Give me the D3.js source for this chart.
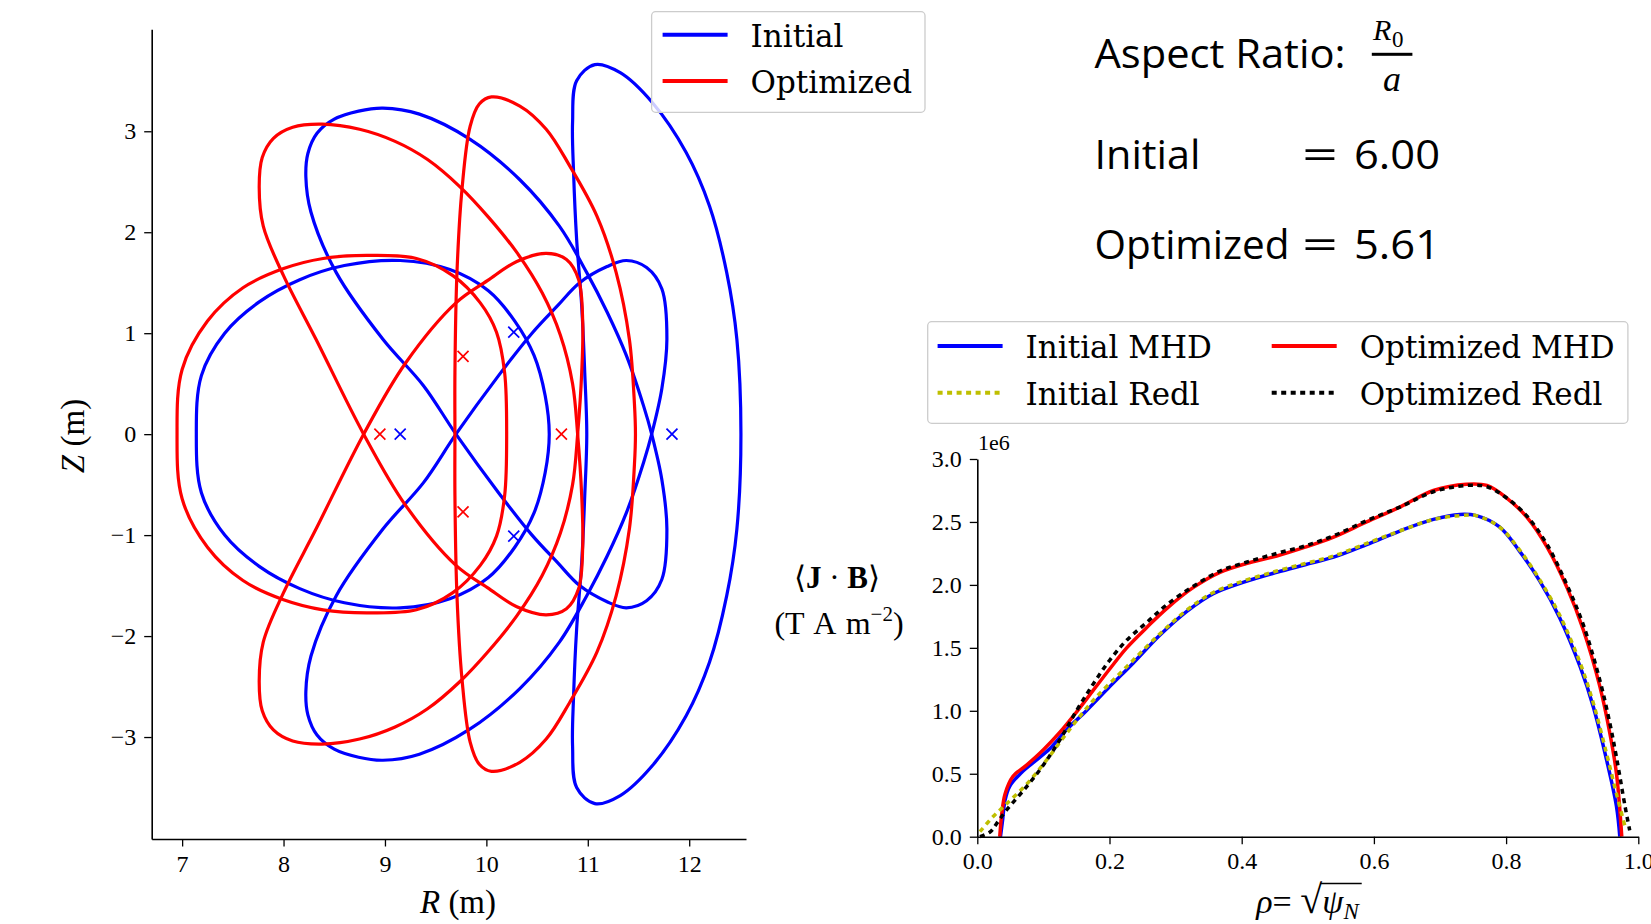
<!DOCTYPE html>
<html>
<head>
<meta charset="utf-8">
<script src="https://cdn.jsdelivr.net/npm/d3@7"></script>
<style>
	body { margin: 0; background: #fff; }
	svg { display: block; }
</style>
</head>
<body>
<svg width="1651" height="924"></svg>
<script>
'use strict';

const rTicks = [7, 8, 9, 10, 11, 12];
const zTicks = [-3, -2, -1, 0, 1, 2, 3];
const rhoTicks = [0, 0.2, 0.4, 0.6, 0.8, 1.0];
const jbTicks = [0, 0.5, 1.0, 1.5, 2.0, 2.5, 3.0];

// boundary cross-sections, [R, Z] in m
const initialBean = [[7.14, 0], [7.19, 0.58], [7.42, 1.00], [7.76, 1.31], [8.16, 1.53], [8.60, 1.67], [9.15, 1.72], [9.64, 1.63], [10.02, 1.42], [10.28, 1.12], [10.47, 0.78], [10.58, 0.38], [10.62, 0], [10.58, -0.38], [10.47, -0.78], [10.28, -1.12], [10.02, -1.42], [9.64, -1.63], [9.15, -1.72], [8.60, -1.67], [8.16, -1.53], [7.76, -1.31], [7.42, -1.00], [7.19, -0.58]];
const initialTall = [[10.99, 0], [10.97, 0.61], [10.94, 1.27], [10.89, 1.93], [10.86, 2.59], [10.85, 3.09], [10.89, 3.50], [11.07, 3.66], [11.32, 3.58], [11.64, 3.28], [11.97, 2.79], [12.20, 2.26], [12.37, 1.60], [12.47, 0.94], [12.51, 0], [12.47, -0.94], [12.37, -1.60], [12.20, -2.26], [11.97, -2.79], [11.64, -3.28], [11.32, -3.58], [11.07, -3.66], [10.89, -3.50], [10.85, -3.09], [10.86, -2.59], [10.89, -1.93], [10.94, -1.27], [10.97, -0.61]];
const initialTiltDown = [[8.98, 3.23], [8.74, 3.20], [8.50, 3.12], [8.33, 2.98], [8.24, 2.78], [8.22, 2.55], [8.27, 2.20], [8.52, 1.60], [8.98, 0.94], [9.38, 0.48], [9.70, 0], [10.12, -0.58], [10.45, -1.00], [10.70, -1.27], [10.92, -1.50], [11.19, -1.66], [11.38, -1.72], [11.58, -1.65], [11.73, -1.44], [11.78, -0.94], [11.73, -0.45], [11.63, 0], [11.55, 0.28], [11.38, 0.78], [11.19, 1.21], [10.99, 1.60], [10.72, 2.06], [10.33, 2.52], [9.84, 2.92], [9.34, 3.17]];
const initialTiltUp = [[8.98, -3.23], [8.74, -3.20], [8.50, -3.12], [8.33, -2.98], [8.24, -2.78], [8.22, -2.55], [8.27, -2.20], [8.52, -1.60], [8.98, -0.94], [9.38, -0.48], [9.70, 0], [10.12, 0.58], [10.45, 1.00], [10.70, 1.27], [10.92, 1.50], [11.19, 1.66], [11.38, 1.72], [11.58, 1.65], [11.73, 1.44], [11.78, 0.94], [11.73, 0.45], [11.63, 0], [11.55, -0.28], [11.38, -0.78], [11.19, -1.21], [10.99, -1.60], [10.72, -2.06], [10.33, -2.52], [9.84, -2.92], [9.34, -3.17]];

const optimizedBean = [[6.95, 0], [7.00, 0.64], [7.25, 1.12], [7.60, 1.45], [8.00, 1.64], [8.39, 1.74], [8.82, 1.77], [9.31, 1.74], [9.67, 1.57], [9.94, 1.30], [10.10, 1.01], [10.18, 0.61], [10.20, 0], [10.18, -0.61], [10.10, -1.01], [9.94, -1.30], [9.67, -1.57], [9.31, -1.74], [8.82, -1.77], [8.39, -1.74], [8.00, -1.64], [7.60, -1.45], [7.25, -1.12], [7.00, -0.64]];
const optimizedTall = [[9.69, 0], [9.69, 0.61], [9.71, 1.60], [9.76, 2.43], [9.84, 3.05], [9.93, 3.27], [10.05, 3.34], [10.33, 3.25], [10.59, 3.02], [10.82, 2.66], [11.09, 2.16], [11.28, 1.60], [11.41, 0.94], [11.46, 0.30], [11.47, 0], [11.46, -0.30], [11.41, -0.94], [11.28, -1.60], [11.09, -2.16], [10.82, -2.66], [10.59, -3.02], [10.33, -3.25], [10.05, -3.34], [9.93, -3.27], [9.84, -3.05], [9.76, -2.43], [9.71, -1.60], [9.69, -0.61]];
const optimizedTiltDown = [[8.38, 3.07], [8.09, 3.04], [7.90, 2.93], [7.79, 2.74], [7.76, 2.45], [7.80, 2.06], [8.00, 1.57], [8.32, 0.94], [8.79, 0], [9.20, -0.70], [9.70, -1.30], [10.01, -1.52], [10.30, -1.71], [10.59, -1.79], [10.79, -1.73], [10.91, -1.53], [10.95, -1.11], [10.94, -0.61], [10.90, 0], [10.85, 0.50], [10.73, 0.98], [10.55, 1.40], [10.30, 1.80], [10.02, 2.15], [9.74, 2.45], [9.42, 2.72], [9.10, 2.90], [8.75, 3.02]];
const optimizedTiltUp = [[8.38, -3.07], [8.09, -3.04], [7.90, -2.93], [7.79, -2.74], [7.76, -2.45], [7.80, -2.06], [8.00, -1.57], [8.32, -0.94], [8.79, 0], [9.20, 0.70], [9.70, 1.30], [10.01, 1.52], [10.30, 1.71], [10.59, 1.79], [10.79, 1.73], [10.91, 1.53], [10.95, 1.11], [10.94, 0.61], [10.90, 0], [10.85, -0.50], [10.73, -0.98], [10.55, -1.40], [10.30, -1.80], [10.02, -2.15], [9.74, -2.45], [9.42, -2.72], [9.10, -2.90], [8.75, -3.02]];

// magnetic axis positions
const initialAxis = [[9.15, 0], [11.83, 0], [10.27, 1.01], [10.27, -1.01]];
const optimizedAxis = [[8.95, 0], [10.74, 0], [9.77, 0.77], [9.77, -0.77]];

// <J.B> profiles, units of 1e6 T A m^-2
const rhoInitialMHD = [0.035, 0.038, 0.042, 0.049, 0.065, 0.085, 0.11, 0.135, 0.165, 0.20, 0.236, 0.276, 0.317, 0.357, 0.402, 0.453, 0.496, 0.539, 0.589, 0.640, 0.690, 0.73, 0.755, 0.79, 0.82, 0.851, 0.881, 0.912, 0.932, 0.952, 0.967, 0.972];
const jbInitialMHD = [0, 0.12, 0.29, 0.40, 0.50, 0.59, 0.70, 0.85, 1.00, 1.19, 1.38, 1.60, 1.79, 1.93, 2.02, 2.10, 2.16, 2.22, 2.32, 2.43, 2.52, 2.56, 2.55, 2.46, 2.27, 2.03, 1.74, 1.35, 1.03, 0.61, 0.24, 0];
const rhoOptimizedMHD = [0.034, 0.037, 0.042, 0.054, 0.075, 0.10, 0.125, 0.15, 0.175, 0.20, 0.226, 0.256, 0.286, 0.327, 0.367, 0.407, 0.453, 0.496, 0.539, 0.589, 0.640, 0.690, 0.740, 0.771, 0.801, 0.831, 0.862, 0.892, 0.917, 0.942, 0.957, 0.967, 0.975];
const jbOptimizedMHD = [0, 0.18, 0.34, 0.48, 0.57, 0.69, 0.83, 0.99, 1.16, 1.33, 1.50, 1.66, 1.81, 1.98, 2.10, 2.17, 2.23, 2.30, 2.38, 2.50, 2.62, 2.75, 2.80, 2.79, 2.69, 2.54, 2.30, 1.98, 1.64, 1.19, 0.82, 0.50, 0];
const rhoInitialRedl = [0.004, 0.024, 0.044, 0.075, 0.105, 0.135, 0.175, 0.226, 0.276, 0.317, 0.357, 0.402, 0.453, 0.496, 0.539, 0.589, 0.640, 0.690, 0.73, 0.755, 0.79, 0.82, 0.851, 0.881, 0.912, 0.932, 0.952, 0.967, 0.98];
const jbInitialRedl = [0.04, 0.16, 0.26, 0.42, 0.61, 0.82, 1.08, 1.35, 1.61, 1.80, 1.94, 2.03, 2.11, 2.17, 2.23, 2.33, 2.43, 2.52, 2.55, 2.55, 2.46, 2.28, 2.04, 1.76, 1.38, 1.06, 0.66, 0.34, 0.08];
const rhoOptimizedRedl = [0.004, 0.02, 0.03, 0.044, 0.075, 0.10, 0.125, 0.15, 0.175, 0.20, 0.226, 0.256, 0.286, 0.327, 0.367, 0.407, 0.453, 0.496, 0.539, 0.589, 0.640, 0.690, 0.740, 0.771, 0.801, 0.831, 0.862, 0.892, 0.917, 0.942, 0.957, 0.967, 0.98, 0.987];
const jbOptimizedRedl = [0, 0.04, 0.11, 0.21, 0.40, 0.57, 0.77, 1.00, 1.21, 1.40, 1.56, 1.70, 1.84, 1.99, 2.11, 2.18, 2.25, 2.31, 2.39, 2.51, 2.62, 2.74, 2.79, 2.78, 2.69, 2.55, 2.32, 2.00, 1.68, 1.24, 0.90, 0.63, 0.24, 0.05];

const BLUE = "#0000ff";
const RED = "#ff0000";
const YELLOW = "#bfbf00";
const SERIF = '"Liberation Serif", "DejaVu Serif", serif';
const LEGEND_FONT = '"DejaVu Serif", serif';
const SANS = '"Open Sans", "Noto Sans", sans-serif';

const svg = d3.select("svg");

function styleAxis(g) {
	g.attr("font-family", SERIF).attr("font-size", 24);
	g.select(".domain").attr("stroke-width", 1.6);
	g.selectAll(".tick line").attr("stroke-width", 1.3);
	g.selectAll(".tick text").attr("fill", "#000");
}

function legendBox(x, y, w, h) {
	svg.append("rect")
		.attr("x", x).attr("y", y)
		.attr("width", w).attr("height", h)
		.attr("rx", 4)
		.attr("fill", "#fff").attr("fill-opacity", 0.8)
		.attr("stroke", "#cccccc").attr("stroke-width", 1.3);
}

function legendItem(x, y, label, color, dash) {
	svg.append("line")
		.attr("x1", x).attr("x2", x + 65)
		.attr("y1", y).attr("y2", y)
		.attr("stroke", color).attr("stroke-width", 4)
		.attr("stroke-dasharray", dash);
	svg.append("text")
		.attr("x", x + 88).attr("y", y + 12)
		.attr("font-family", LEGEND_FONT).attr("font-size", 31)
		.text(label);
}

// ---- left panel: boundary shapes ----
const xR = d3.scaleLinear().domain([6.7, 12.56]).range([151.7, 746]);
const yZ = d3.scaleLinear().domain([-4.01, 4.01]).range([839, 29.3]);

const contour = d3.line()
	.x(d => xR(d[0]))
	.y(d => yZ(d[1]))
	.curve(d3.curveCatmullRomClosed.alpha(0.5));

const sections = [
	{pts: initialBean, color: BLUE},
	{pts: initialTall, color: BLUE},
	{pts: initialTiltDown, color: BLUE},
	{pts: initialTiltUp, color: BLUE},
	{pts: optimizedBean, color: RED},
	{pts: optimizedTall, color: RED},
	{pts: optimizedTiltDown, color: RED},
	{pts: optimizedTiltUp, color: RED}
];

const left = svg.append("g");

left.append("g").selectAll("path")
	.data(sections)
	.enter().append("path")
	.attr("d", d => contour(d.pts))
	.attr("fill", "none")
	.attr("stroke", d => d.color)
	.attr("stroke-width", 3.2);

const marks = initialAxis.map(p => ({p: p, color: BLUE}))
	.concat(optimizedAxis.map(p => ({p: p, color: RED})));

left.append("g").selectAll("path")
	.data(marks)
	.enter().append("path")
	.attr("transform", d => `translate(${xR(d.p[0])},${yZ(d.p[1])})`)
	.attr("d", "M-5.5,-5.5L5.5,5.5M-5.5,5.5L5.5,-5.5")
	.attr("stroke", d => d.color)
	.attr("stroke-width", 1.7);

left.append("g")
	.attr("transform", "translate(0,839)")
	.call(d3.axisBottom(xR).tickValues(rTicks).tickSize(7.5).tickSizeOuter(0).tickPadding(8).tickFormat(d3.format("d")))
	.call(styleAxis);

left.append("g")
	.attr("transform", "translate(151.7,0)")
	.call(d3.axisLeft(yZ).tickValues(zTicks).tickSize(7.5).tickSizeOuter(0).tickPadding(8).tickFormat(d3.format("d")))
	.call(styleAxis);

const rLabel = left.append("text")
	.attr("x", 458).attr("y", 913)
	.attr("text-anchor", "middle")
	.attr("font-family", SERIF).attr("font-size", 33);
rLabel.append("tspan").attr("font-style", "italic").text("R");
rLabel.append("tspan").text(" (m)");

const zLabel = left.append("text")
	.attr("transform", "translate(84,436) rotate(-90)")
	.attr("text-anchor", "middle")
	.attr("font-family", SERIF).attr("font-size", 33);
zLabel.append("tspan").attr("font-style", "italic").text("Z");
zLabel.append("tspan").text(" (m)");

legendBox(651.6, 11.7, 273.4, 100.6);
legendItem(662.6, 34.7, "Initial", BLUE, null);
legendItem(662.6, 81, "Optimized", RED, null);

// ---- aspect ratio text ----
function sansText(x, y, str, len) {
	return svg.append("text")
		.attr("x", x).attr("y", y)
		.attr("font-family", SANS).attr("font-size", 41)
		.attr("textLength", len).attr("lengthAdjust", "spacingAndGlyphs")
		.text(str);
}

sansText(1094.5, 68, "Aspect Ratio:", 251);
svg.append("text")
	.attr("x", 1373).attr("y", 40)
	.attr("font-family", SERIF).attr("font-size", 30).attr("font-style", "italic")
	.text("R");
svg.append("text")
	.attr("x", 1392).attr("y", 47)
	.attr("font-family", SERIF).attr("font-size", 23)
	.text("0");
svg.append("rect")
	.attr("x", 1371.8).attr("y", 52.8)
	.attr("width", 40.6).attr("height", 3);
svg.append("text")
	.attr("x", 1392).attr("y", 91)
	.attr("text-anchor", "middle")
	.attr("font-family", SERIF).attr("font-size", 36).attr("font-style", "italic")
	.text("a");

sansText(1094.5, 169, "Initial", 106);
sansText(1302, 169, "=", 36);
sansText(1354, 169, "6.00", 86);
sansText(1094.5, 259, "Optimized", 195);
sansText(1302, 259, "=", 36);
sansText(1354, 259, "5.61", 86);

// ---- right panel: <J.B> profiles ----
const xRho = d3.scaleLinear().domain([0, 1]).range([977.3, 1638.3]);
const yJB = d3.scaleLinear().domain([0, 3]).range([836.7, 459]);

const profile = d3.line()
	.x(d => xRho(d[0]))
	.y(d => yJB(d[1]))
	.curve(d3.curveCatmullRom.alpha(0.5));

const profiles = [
	{rho: rhoInitialMHD, jb: jbInitialMHD, color: BLUE, dash: null},
	{rho: rhoOptimizedMHD, jb: jbOptimizedMHD, color: RED, dash: null},
	{rho: rhoInitialRedl, jb: jbInitialRedl, color: YELLOW, dash: "5,4.5"},
	{rho: rhoOptimizedRedl, jb: jbOptimizedRedl, color: "#000", dash: "5,4.5"}
];

const right = svg.append("g");

right.append("g").selectAll("path")
	.data(profiles)
	.enter().append("path")
	.attr("d", d => profile(d.rho.map((r, i) => [r, d.jb[i]])))
	.attr("fill", "none")
	.attr("stroke", d => d.color)
	.attr("stroke-width", 3.5)
	.attr("stroke-dasharray", d => d.dash);

right.append("g")
	.attr("transform", "translate(0,836.7)")
	.call(d3.axisBottom(xRho).tickValues(rhoTicks).tickSize(7.5).tickSizeOuter(0).tickPadding(8).tickFormat(d3.format(".1f")))
	.call(styleAxis);

right.append("g")
	.attr("transform", "translate(977.3,0)")
	.call(d3.axisLeft(yJB).tickValues(jbTicks).tickSize(7.5).tickSizeOuter(0).tickPadding(8).tickFormat(d3.format(".1f")))
	.call(styleAxis);

right.append("text")
	.attr("x", 978).attr("y", 450)
	.attr("font-family", SERIF).attr("font-size", 22)
	.text("1e6");

const jbLabel = right.append("text")
	.attr("x", 837).attr("y", 588)
	.attr("text-anchor", "middle")
	.attr("font-family", SERIF).attr("font-size", 31);
jbLabel.append("tspan").text("\u27e8");
jbLabel.append("tspan").attr("font-weight", "bold").text("J");
jbLabel.append("tspan").text(" \u00b7 ");
jbLabel.append("tspan").attr("font-weight", "bold").text("B");
jbLabel.append("tspan").text("\u27e9");

const unitLabel = right.append("text")
	.attr("x", 839).attr("y", 634)
	.attr("text-anchor", "middle")
	.attr("font-family", SERIF).attr("font-size", 32)
	.attr("word-spacing", 3);
unitLabel.append("tspan").text("(T A m");
unitLabel.append("tspan").attr("font-size", 21).attr("dy", -13).text("\u22122");
unitLabel.append("tspan").attr("dy", 13).text(")");

const rhoLabel = right.append("text")
	.attr("y", 913)
	.attr("font-family", SERIF).attr("font-size", 34);
rhoLabel.append("tspan").attr("font-style", "italic").text("\u03c1");
rhoLabel.append("tspan").text("= ");
rhoLabel.append("tspan").attr("font-size", 40).text("\u221a");
rhoLabel.append("tspan").attr("font-style", "italic").text("\u03c8");
rhoLabel.append("tspan").attr("font-style", "italic").attr("font-size", 23).attr("dy", 6).text("N");

const rhoWidth = rhoLabel.node().getComputedTextLength();
rhoLabel.attr("x", 1307.5 - rhoWidth / 2);
const barStart = rhoLabel.node().getEndPositionOfChar(3).x - 1.5;
const barEnd = rhoLabel.node().getEndPositionOfChar(5).x + 3;
right.append("line")
	.attr("x1", barStart).attr("x2", barEnd)
	.attr("y1", 883.5).attr("y2", 883.5)
	.attr("stroke", "#000").attr("stroke-width", 1.5);

legendBox(927.7, 321.7, 700.2, 101.6);
legendItem(937.6, 346, "Initial MHD", BLUE, null);
legendItem(1271.7, 346, "Optimized MHD", RED, null);
legendItem(937.6, 392.7, "Initial Redl", YELLOW, "5,4.5");
legendItem(1271.7, 392.7, "Optimized Redl", "#000", "5,4.5");
</script>
</body>
</html>
